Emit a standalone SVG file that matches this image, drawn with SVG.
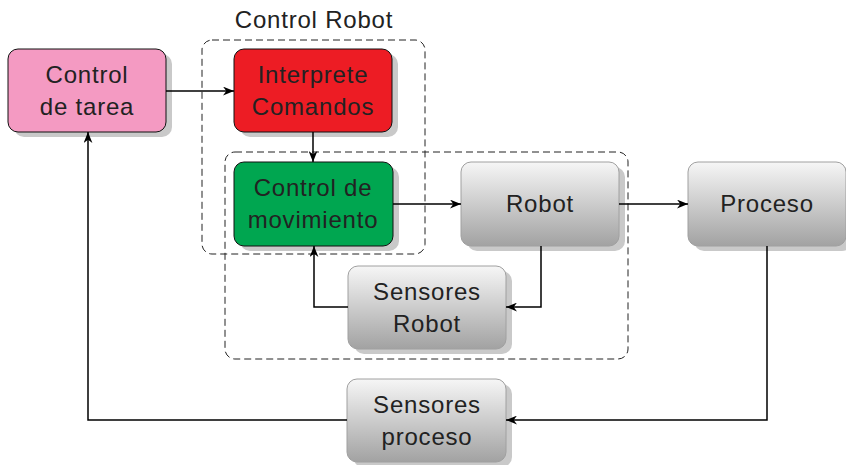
<svg xmlns="http://www.w3.org/2000/svg" width="846" height="465" viewBox="0 0 846 465">
  <defs>
    <linearGradient id="grayFill" x1="0" y1="0" x2="0" y2="1">
      <stop offset="0" stop-color="#f6f6f6"/>
      <stop offset="1" stop-color="#a2a2a2"/>
    </linearGradient>
    <marker id="arrow" viewBox="0 0 10 8" refX="10" refY="4" markerWidth="11" markerHeight="9" markerUnits="userSpaceOnUse" orient="auto">
      <path d="M0,0 L10,4 L0,8 L3,4 Z" fill="#000"/>
    </marker>
  </defs>
  <style>
    text { font-family: "Liberation Sans", "DejaVu Sans", sans-serif; font-size: 24px; letter-spacing: 0.8px; fill: #222; text-anchor: middle; }
    .shadow { fill: #c9c9c9; }
    .box { stroke: #111; stroke-width: 1; }
    .gbox { fill: url(#grayFill); stroke: #a0a0a0; stroke-width: 1; }
    .group { fill: none; stroke: #222; stroke-width: 1; stroke-dasharray: 7 4; }
    .edge { fill: none; stroke: #000; stroke-width: 1.5; marker-end: url(#arrow); }
  </style>

  <rect width="846" height="465" fill="#fff"/>

  <!-- dashed groupings -->
  <g id="group-control-robot">
    <rect class="group" x="202" y="40" width="223" height="214" rx="10"/>
    <text x="314" y="28">Control Robot</text>
  </g>
  <g id="group-robot-loop">
    <rect class="group" x="225" y="152" width="403" height="207" rx="10"/>
  </g>

  <!-- nodes -->
  <g id="control-tarea">
    <rect class="shadow" x="14" y="54" width="158" height="83" rx="10"/>
    <rect class="box" x="8" y="49" width="158" height="83" rx="10" fill="#f49ac2"/>
    <text x="87" y="83">Control</text>
    <text x="87" y="115">de tarea</text>
  </g>
  <g id="interprete-comandos">
    <rect class="shadow" x="240" y="54" width="158" height="83" rx="10"/>
    <rect class="box" x="234" y="49" width="158" height="83" rx="10" fill="#ed1c24"/>
    <text x="313" y="83">Interprete</text>
    <text x="313" y="115">Comandos</text>
  </g>
  <g id="control-movimiento">
    <rect class="shadow" x="240" y="167" width="159" height="84" rx="10"/>
    <rect class="box" x="234" y="162" width="159" height="84" rx="10" fill="#00a650"/>
    <text x="313" y="196">Control de</text>
    <text x="313" y="228">movimiento</text>
  </g>
  <g id="robot">
    <rect class="shadow" x="467" y="167" width="158" height="84" rx="10"/>
    <rect class="gbox" x="461" y="162" width="158" height="84" rx="10"/>
    <text x="540" y="212">Robot</text>
  </g>
  <g id="proceso">
    <rect class="shadow" x="694" y="167" width="158" height="84" rx="10"/>
    <rect class="gbox" x="688" y="162" width="158" height="84" rx="10"/>
    <text x="767" y="212">Proceso</text>
  </g>
  <g id="sensores-robot">
    <rect class="shadow" x="354" y="271" width="158" height="83" rx="10"/>
    <rect class="gbox" x="348" y="266" width="158" height="83" rx="10"/>
    <text x="427" y="300">Sensores</text>
    <text x="427" y="332">Robot</text>
  </g>
  <g id="sensores-proceso">
    <rect class="shadow" x="353" y="384" width="159" height="83" rx="10"/>
    <rect class="gbox" x="347" y="379" width="159" height="83" rx="10"/>
    <text x="427" y="413">Sensores</text>
    <text x="427" y="445">proceso</text>
  </g>

  <!-- connectors -->
  <g id="connectors">
    <path class="edge" d="M166,91 H234"/>
    <path class="edge" d="M313,132 V162"/>
    <path class="edge" d="M393,204 H461"/>
    <path class="edge" d="M619,204 H688"/>
    <path class="edge" d="M541,246 V307 H506"/>
    <path class="edge" d="M348,307 H314 V246"/>
    <path class="edge" d="M767,246 V420 H506"/>
    <path class="edge" d="M347,420 H88 V132"/>
  </g>
</svg>
